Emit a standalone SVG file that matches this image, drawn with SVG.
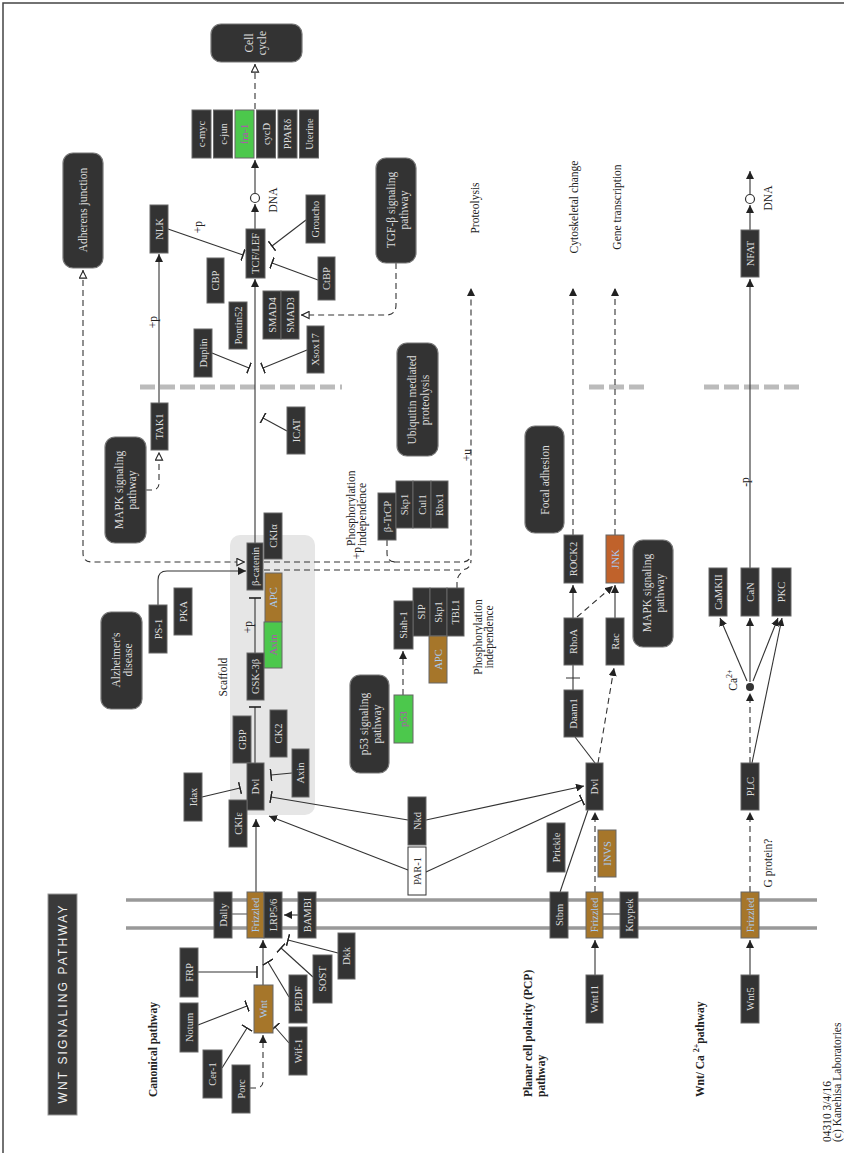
<svg xmlns="http://www.w3.org/2000/svg" width="844" height="1153" viewBox="0 0 844 1153">
<style>
.n rect{fill:#333;stroke:#666;stroke-width:1}
.n text,.m text{font-family:"Liberation Serif","DejaVu Serif",serif;font-size:10.5px;fill:#ddd;text-anchor:middle;dominant-baseline:central}
.m rect{fill:#333;stroke:#777;stroke-width:1.2}
.m text{font-size:11.5px}
.b rect{fill:#a6762a}
.b text{fill:#a8cbf5}
.g rect{fill:#4cc84c}
.g text{fill:#b44fb4}
.o rect{fill:#c0622b}
.o text{fill:#a8cbf5}
.w rect{fill:#fff;stroke:#333}
.w text{fill:#333}
.c path{fill:none;stroke:#333;stroke-width:1.1}
.c .d{stroke-dasharray:6 4}
.lbl{font-family:"Liberation Serif","DejaVu Serif",serif;font-size:11.5px;fill:#222;text-anchor:middle;dominant-baseline:central}
.st{text-anchor:start}
.bold{font-weight:bold}
.sep{stroke:#bbb;stroke-width:5;stroke-dasharray:15 5;fill:none}
.mem{stroke:#999;stroke-width:3.5}
</style>
<defs>
<marker id="a" viewBox="0 0 10 10" refX="10" refY="5" markerWidth="8" markerHeight="8" markerUnits="userSpaceOnUse" orient="auto"><path d="M0,0L10,5L0,10z" fill="#222"/></marker>
<marker id="oa" viewBox="0 0 10 10" refX="10" refY="5" markerWidth="9" markerHeight="9" markerUnits="userSpaceOnUse" orient="auto-start-reverse"><path d="M1,1L9,5L1,9z" fill="#fff" stroke="#222" stroke-width="1.2"/></marker>
<marker id="t" viewBox="0 0 2 12" refX="1" refY="6" markerWidth="2" markerHeight="12" markerUnits="userSpaceOnUse" orient="auto"><path d="M1,0V12" stroke="#222" stroke-width="1.6"/></marker>
</defs>
<rect width="844" height="1153" fill="#fff"/>
<path d="M3,1153V3H844" fill="none" stroke="#444" stroke-width="1.5"/>

<!-- scaffold -->
<rect id="scaffold" x="230" y="535" width="85" height="280" rx="10" fill="#e6e6e6"/>
<text class="lbl" x="223" y="677" transform="rotate(-90 223 677)">Scaffold</text>

<!-- membrane -->
<g id="membrane">
<line class="mem" x1="126" y1="900" x2="817" y2="900"/>
<line class="mem" x1="126" y1="928" x2="817" y2="928"/>
<path d="M232,914H247M603,914H620" stroke="#888" stroke-width="1.5"/>
</g>

<!-- nucleus boundary -->
<path class="sep" d="M140,387H342M589,387H645M704,387H800"/>

<g id="connectors" class="c">
<path class="d" d="M255,109V64" marker-end="url(#oa)"/>
<path d="M255,229V204" marker-end="url(#a)"/>
<path d="M255,193V160" marker-end="url(#a)"/>
<path d="M168,229L243,255" marker-end="url(#t)"/>
<path d="M159,403V254" marker-end="url(#a)"/>
<path class="d" d="M146,490H152Q159,490 159,483V452" marker-end="url(#oa)"/>
<path class="d" d="M83,270V553Q83,562 92,562H245" marker-start="url(#oa)" marker-end="url(#oa)"/>
<path d="M158,605V580Q158,571 167,571H246" marker-end="url(#a)"/>
<path d="M255,543V279" marker-end="url(#a)"/>
<path d="M212,353L249,368" marker-end="url(#t)"/>
<path d="M307,350L263,368" marker-end="url(#t)"/>
<path d="M287,431L263,418" marker-end="url(#t)"/>
<path d="M306,220L272,246" marker-end="url(#t)"/>
<path d="M318,280L272,263" marker-end="url(#t)"/>
<path class="d" d="M396,263V305Q396,315 386,315H301" marker-end="url(#oa)"/>
<path class="d" d="M264,562H462Q471,562 471,553V288" marker-end="url(#a)"/>
<path class="d" d="M264,570H460Q471,570 471,560"/>
<path class="d" d="M387,540V553Q387,562 396,562"/>
<path class="d" d="M457,588V582Q457,575 464,571"/>
<path d="M255,653V598" marker-end="url(#t)"/>
<path d="M255,763V707" marker-end="url(#t)"/>
<path d="M202,797L240,788" marker-end="url(#t)"/>
<path d="M256,892V819" marker-end="url(#a)"/>
<path d="M292,773L271,775" marker-end="url(#t)"/>
<path d="M408,820L271,797" marker-end="url(#t)"/>
<path d="M408,870L269,816" marker-end="url(#a)"/>
<path d="M426,820L584,786" marker-end="url(#a)"/>
<path d="M426,872L582,800" marker-end="url(#t)"/>
<path d="M263,985V940" marker-end="url(#a)"/>
<path d="M198,972H257" marker-end="url(#t)"/>
<path d="M198,1025L247,1006" marker-end="url(#t)"/>
<path d="M222,1068L247,1028" marker-end="url(#t)"/>
<path class="d" d="M250,1088H256Q263,1088 263,1081V1035" marker-end="url(#a)"/>
<path d="M289,997L268,962" marker-end="url(#t)"/>
<path d="M289,1043L275,1027" marker-end="url(#t)"/>
<path d="M313,977L281,948" marker-end="url(#t)"/>
<path d="M338,953L288,940" marker-end="url(#t)"/>
<path d="M298,915H284" marker-end="url(#a)"/>
<path class="d" d="M403,695V651" marker-end="url(#a)"/>
<path d="M595,975V940" marker-end="url(#a)"/>
<path class="d" d="M595,892V812" marker-end="url(#a)"/>
<path d="M560,892L588,810"/>
<path d="M595,763L575,737"/>
<path d="M573,690V665M566,678H580"/>
<path class="d" d="M598,763L614,668" marker-end="url(#a)"/>
<path d="M573,618V585" marker-end="url(#a)"/>
<path d="M615,618V585" marker-end="url(#a)"/>
<path class="d" d="M577,617L613,586" marker-end="url(#a)"/>
<path class="d" d="M573,535V288" marker-end="url(#a)"/>
<path class="d" d="M615,535V288" marker-end="url(#a)"/>
<path d="M750,975V940" marker-end="url(#a)"/>
<path class="d" d="M750,892V812" marker-end="url(#a)"/>
<path class="d" d="M750,763V693" marker-end="url(#a)"/>
<path d="M747,681L720,618" marker-end="url(#a)"/>
<path d="M750,682V618" marker-end="url(#a)"/>
<path d="M753,681L778,618" marker-end="url(#a)"/>
<path d="M752,763L782,618" marker-end="url(#a)"/>
<path d="M750,568V279" marker-end="url(#a)"/>
<path d="M750,230V205" marker-end="url(#a)"/>
<path d="M750,194V171" marker-end="url(#a)"/>
<circle cx="255" cy="198" r="4.5" fill="#fff" stroke="#333" stroke-width="1.2"/>
<circle cx="750" cy="199" r="4.5" fill="#fff" stroke="#333" stroke-width="1.2"/>
<circle cx="750" cy="687" r="4" fill="#333"/>
</g>

<!-- connector labels -->
<g id="labels">
<text class="lbl" x="198" y="227" transform="rotate(-90 198 227)">+p</text>
<text class="lbl" x="153" y="322" transform="rotate(-90 153 322)">+p</text>
<text class="lbl" x="248" y="627" transform="rotate(-90 248 627)">+p</text>
<text class="lbl" x="357" y="553" transform="rotate(-90 357 553)">+p</text>
<text class="lbl" x="467" y="455" transform="rotate(-90 467 455)">+u</text>
<text class="lbl" x="745" y="482" transform="rotate(-90 745 482)">-p</text>
<text class="lbl" x="273" y="200" transform="rotate(-90 273 200)">DNA</text>
<text class="lbl" x="768" y="198" transform="rotate(-90 768 198)">DNA</text>
<text class="lbl" x="475" y="208" transform="rotate(-90 475 208)">Proteolysis</text>
<text class="lbl" x="574" y="207" transform="rotate(-90 574 207)">Cytoskeletal change</text>
<text class="lbl" x="617" y="207" transform="rotate(-90 617 207)">Gene transcription</text>
<text class="lbl st" x="351" y="546" transform="rotate(-90 351 546)">Phosphorylation</text>
<text class="lbl st" x="362" y="546" transform="rotate(-90 362 546)">independence</text>
<text class="lbl" x="478" y="637" transform="rotate(-90 478 637)">Phosphorylation</text>
<text class="lbl" x="489" y="637" transform="rotate(-90 489 637)">independence</text>
<text class="lbl" x="768" y="863" transform="rotate(-90 768 863)">G protein?</text>
<text class="lbl" x="733" y="680" transform="rotate(-90 733 680)">Ca<tspan font-size="8" dy="-4">2+</tspan></text>
<text class="lbl st bold" x="153" y="1097" transform="rotate(-90 153 1097)">Canonical pathway</text>
<text class="lbl st bold" x="528" y="1097" transform="rotate(-90 528 1097)">Planar cell polarity (PCP)</text>
<text class="lbl st bold" x="541" y="1097" transform="rotate(-90 541 1097)">pathway</text>
<text class="lbl st bold" x="700" y="1097" transform="rotate(-90 700 1097)">Wnt/ Ca <tspan font-size="8" dy="-4">2+</tspan><tspan dy="4">pathway</tspan></text>
<text class="lbl st" x="827" y="1142" font-family="Liberation Sans" font-size="9.5" transform="rotate(-90 827 1142)">04310 3/4/16</text>
<text class="lbl st" x="837" y="1142" font-family="Liberation Sans" font-size="9.5" transform="rotate(-90 837 1142)">(c) Kanehisa Laboratories</text>
</g>

<!-- title -->
<g id="title">
<rect x="48" y="894" width="29" height="221" fill="#3a3a3a" stroke="#999"/>
<text x="62.5" y="1004.5" font-family="Liberation Sans" font-size="12" fill="#eee" text-anchor="middle" dominant-baseline="central" textLength="198" lengthAdjust="spacing" transform="rotate(-90 62.5 1004.5)">WNT  SIGNALING  PATHWAY</text>
</g>

<!-- map nodes -->
<g id="m-cellcycle" class="m"><rect x="211" y="24" width="91" height="38" rx="10"/><text x="249" y="43" transform="rotate(-90 249 43)">Cell</text><text x="262" y="43" transform="rotate(-90 262 43)">cycle</text></g>
<g id="m-adherens" class="m"><rect x="63" y="153" width="40" height="115" rx="10"/><text x="83" y="210" transform="rotate(-90 83 210)">Adherens junction</text></g>
<g id="m-tgfb" class="m"><rect x="376" y="158" width="40" height="105" rx="10"/><text x="391" y="210" transform="rotate(-90 391 210)">TGF-β signaling</text><text x="404" y="210" transform="rotate(-90 404 210)">pathway</text></g>
<g id="m-ubiq" class="m"><rect x="397" y="343" width="41" height="113" rx="10"/><text x="412" y="400" transform="rotate(-90 412 400)">Ubiquitin mediated</text><text x="425" y="400" transform="rotate(-90 425 400)">proteolysis</text></g>
<g id="m-focal" class="m"><rect x="525" y="426" width="39" height="107" rx="10"/><text x="545" y="480" transform="rotate(-90 545 480)">Focal adhesion</text></g>
<g id="m-mapk2" class="m"><rect x="633" y="540" width="40" height="107" rx="10"/><text x="647" y="593" transform="rotate(-90 647 593)">MAPK signaling</text><text x="660" y="593" transform="rotate(-90 660 593)">pathway</text></g>
<g id="m-mapk1" class="m"><rect x="105" y="437" width="41" height="106" rx="10"/><text x="119" y="490" transform="rotate(-90 119 490)">MAPK signaling</text><text x="132" y="490" transform="rotate(-90 132 490)">pathway</text></g>
<g id="m-alz" class="m"><rect x="101" y="612" width="41" height="97" rx="10"/><text x="116" y="660" transform="rotate(-90 116 660)">Alzheimer's</text><text x="128" y="660" transform="rotate(-90 128 660)">disease</text></g>
<g id="m-p53" class="m"><rect x="350" y="675" width="39" height="98" rx="10"/><text x="364" y="724" transform="rotate(-90 364 724)">p53 signaling</text><text x="377" y="724" transform="rotate(-90 377 724)">pathway</text></g>

<!-- gene nodes -->
<g id="g-cmyc" class="n"><rect x="192" y="110" width="19" height="48"/><text x="201.5" y="134" transform="rotate(-90 201.5 134)">c-myc</text></g>
<g id="g-cjun" class="n"><rect x="213.5" y="110" width="19" height="48"/><text x="223" y="134" transform="rotate(-90 223 134)">c-jun</text></g>
<g id="g-fra1" class="n g"><rect x="235" y="110" width="19" height="48"/><text x="244.5" y="134" transform="rotate(-90 244.5 134)">fra-1</text></g>
<g id="g-cycd" class="n"><rect x="256.5" y="110" width="19" height="48"/><text x="266" y="134" transform="rotate(-90 266 134)">cycD</text></g>
<g id="g-ppard" class="n"><rect x="278" y="110" width="19" height="48"/><text x="287.5" y="134" transform="rotate(-90 287.5 134)">PPARδ</text></g>
<g id="g-uterine" class="n"><rect x="299.5" y="110" width="19" height="48"/><text x="309" y="134" transform="rotate(-90 309 134)">Uterine</text></g>
<g id="g-nlk" class="n"><rect x="150" y="205" width="18" height="48"/><text x="159" y="229" transform="rotate(-90 159 229)">NLK</text></g>
<g id="g-tcflef" class="n"><rect x="246" y="229" width="19" height="49"/><text x="255.5" y="253.5" transform="rotate(-90 255.5 253.5)">TCF/LEF</text></g>
<g id="g-cbp" class="n"><rect x="207" y="258" width="17" height="45"/><text x="215.5" y="280.5" transform="rotate(-90 215.5 280.5)">CBP</text></g>
<g id="g-groucho" class="n"><rect x="306" y="195" width="19" height="48"/><text x="315.5" y="219" transform="rotate(-90 315.5 219)">Groucho</text></g>
<g id="g-ctbp" class="n"><rect x="318" y="257" width="17" height="43"/><text x="326.5" y="278.5" transform="rotate(-90 326.5 278.5)">CtBP</text></g>
<g id="g-pontin" class="n"><rect x="229" y="302" width="18" height="47"/><text x="238" y="325.5" transform="rotate(-90 238 325.5)">Pontin52</text></g>
<g id="g-duplin" class="n"><rect x="194" y="329" width="18" height="48"/><text x="203" y="353" transform="rotate(-90 203 353)">Duplin</text></g>
<g id="g-smad4" class="n"><rect x="263" y="291" width="18" height="48"/><text x="272" y="315" transform="rotate(-90 272 315)">SMAD4</text></g>
<g id="g-smad3" class="n"><rect x="281" y="291" width="18" height="48"/><text x="290" y="315" transform="rotate(-90 290 315)">SMAD3</text></g>
<g id="g-xsox17" class="n"><rect x="307" y="326" width="17" height="47"/><text x="315.5" y="349.5" transform="rotate(-90 315.5 349.5)">Xsox17</text></g>
<g id="g-icat" class="n"><rect x="287" y="407" width="18" height="47"/><text x="296" y="430.5" transform="rotate(-90 296 430.5)">ICAT</text></g>
<g id="g-tak1" class="n"><rect x="151" y="403" width="17" height="47"/><text x="159.5" y="426.5" transform="rotate(-90 159.5 426.5)">TAK1</text></g>
<g id="g-ckia" class="n"><rect x="264" y="513" width="18" height="46"/><text x="273" y="536" transform="rotate(-90 273 536)">CKIα</text></g>
<g id="g-bcat" class="n"><rect x="247" y="543" width="16" height="47"/><text x="255" y="566.5" transform="rotate(-90 255 566.5)">β-catenin</text></g>
<g id="g-apc1" class="n b"><rect x="265" y="573" width="17" height="49"/><text x="273.5" y="597.5" transform="rotate(-90 273.5 597.5)">APC</text></g>
<g id="g-axin1" class="n g"><rect x="264" y="622" width="18" height="46"/><text x="273" y="645" transform="rotate(-90 273 645)">Axin</text></g>
<g id="g-gsk3b" class="n"><rect x="247" y="653" width="17" height="47"/><text x="255.5" y="676.5" transform="rotate(-90 255.5 676.5)">GSK-3β</text></g>
<g id="g-ps1" class="n"><rect x="149" y="605" width="18" height="48"/><text x="158" y="629" transform="rotate(-90 158 629)">PS-1</text></g>
<g id="g-pka" class="n"><rect x="174" y="588" width="18" height="47"/><text x="183" y="611.5" transform="rotate(-90 183 611.5)">PKA</text></g>
<g id="g-gbp" class="n"><rect x="233" y="716" width="18" height="47"/><text x="242" y="739.5" transform="rotate(-90 242 739.5)">GBP</text></g>
<g id="g-ck2" class="n"><rect x="270" y="710" width="17" height="47"/><text x="278.5" y="733.5" transform="rotate(-90 278.5 733.5)">CK2</text></g>
<g id="g-dvl1" class="n"><rect x="247" y="763" width="17" height="47"/><text x="255.5" y="786.5" transform="rotate(-90 255.5 786.5)">Dvl</text></g>
<g id="g-axin2" class="n"><rect x="292" y="749" width="17" height="48"/><text x="300.5" y="773" transform="rotate(-90 300.5 773)">Axin</text></g>
<g id="g-idax" class="n"><rect x="184" y="773" width="18" height="48"/><text x="193" y="797" transform="rotate(-90 193 797)">Idax</text></g>
<g id="g-ckie" class="n"><rect x="229" y="800" width="18" height="47"/><text x="238" y="823.5" transform="rotate(-90 238 823.5)">CKIε</text></g>
<g id="g-btrcp" class="n"><rect x="378" y="493" width="18" height="47"/><text x="387" y="516.5" transform="rotate(-90 387 516.5)">β-TrCP</text></g>
<g id="g-skp1a" class="n"><rect x="396" y="481" width="17" height="47"/><text x="404.5" y="504.5" transform="rotate(-90 404.5 504.5)">Skp1</text></g>
<g id="g-cul1" class="n"><rect x="413" y="481" width="18" height="47"/><text x="422" y="504.5" transform="rotate(-90 422 504.5)">Cul1</text></g>
<g id="g-rbx1" class="n"><rect x="431" y="481" width="17" height="47"/><text x="439.5" y="504.5" transform="rotate(-90 439.5 504.5)">Rbx1</text></g>
<g id="g-sip" class="n"><rect x="413" y="588" width="17" height="48"/><text x="421.5" y="612" transform="rotate(-90 421.5 612)">SIP</text></g>
<g id="g-skp1b" class="n"><rect x="430" y="588" width="17" height="48"/><text x="438.5" y="612" transform="rotate(-90 438.5 612)">Skp1</text></g>
<g id="g-tbl1" class="n"><rect x="447" y="588" width="17" height="48"/><text x="455.5" y="612" transform="rotate(-90 455.5 612)">TBL1</text></g>
<g id="g-siah1" class="n"><rect x="394" y="601" width="19" height="48"/><text x="403.5" y="625" transform="rotate(-90 403.5 625)">Siah-1</text></g>
<g id="g-apc2" class="n b"><rect x="429" y="636" width="18" height="47"/><text x="438" y="659.5" transform="rotate(-90 438 659.5)">APC</text></g>
<g id="g-p53" class="n g"><rect x="394" y="695" width="19" height="48"/><text x="403.5" y="719" transform="rotate(-90 403.5 719)">p53</text></g>
<g id="g-nkd" class="n"><rect x="408" y="797" width="18" height="48"/><text x="417" y="821" transform="rotate(-90 417 821)">Nkd</text></g>
<g id="g-par1" class="n w"><rect x="408" y="847" width="18" height="48"/><text x="417" y="871" transform="rotate(-90 417 871)">PAR-1</text></g>
<g id="g-dally" class="n"><rect x="214" y="892" width="18" height="46"/><text x="223" y="915" transform="rotate(-90 223 915)">Dally</text></g>
<g id="g-fz1" class="n b"><rect x="247" y="892" width="17" height="46"/><text x="255.5" y="915" transform="rotate(-90 255.5 915)">Frizzled</text></g>
<g id="g-lrp" class="n"><rect x="264" y="892" width="18" height="46"/><text x="273" y="915" transform="rotate(-90 273 915)">LRP5/6</text></g>
<g id="g-bambi" class="n"><rect x="298" y="892" width="18" height="46"/><text x="307" y="915" transform="rotate(-90 307 915)">BAMBI</text></g>
<g id="g-wnt" class="n b"><rect x="254" y="985" width="19" height="48"/><text x="263.5" y="1009" transform="rotate(-90 263.5 1009)">Wnt</text></g>
<g id="g-frp" class="n"><rect x="180" y="948" width="18" height="49"/><text x="189" y="972.5" transform="rotate(-90 189 972.5)">FRP</text></g>
<g id="g-notum" class="n"><rect x="180" y="1003" width="18" height="49"/><text x="189" y="1027.5" transform="rotate(-90 189 1027.5)">Notum</text></g>
<g id="g-cer1" class="n"><rect x="203" y="1050" width="19" height="48"/><text x="212.5" y="1074" transform="rotate(-90 212.5 1074)">Cer-1</text></g>
<g id="g-porc" class="n"><rect x="232" y="1065" width="18" height="48"/><text x="241" y="1089" transform="rotate(-90 241 1089)">Porc</text></g>
<g id="g-pedf" class="n"><rect x="289" y="975" width="18" height="48"/><text x="298" y="999" transform="rotate(-90 298 999)">PEDF</text></g>
<g id="g-wif1" class="n"><rect x="289" y="1027" width="18" height="48"/><text x="298" y="1051" transform="rotate(-90 298 1051)">Wif-1</text></g>
<g id="g-sost" class="n"><rect x="313" y="955" width="19" height="48"/><text x="322.5" y="979" transform="rotate(-90 322.5 979)">SOST</text></g>
<g id="g-dkk" class="n"><rect x="338" y="933" width="17" height="46"/><text x="346.5" y="956" transform="rotate(-90 346.5 956)">Dkk</text></g>
<g id="g-rock2" class="n"><rect x="564" y="535" width="19" height="48"/><text x="573.5" y="559" transform="rotate(-90 573.5 559)">ROCK2</text></g>
<g id="g-jnk" class="n o"><rect x="606" y="535" width="18" height="48"/><text x="615" y="559" transform="rotate(-90 615 559)">JNK</text></g>
<g id="g-rhoa" class="n"><rect x="564" y="618" width="19" height="47"/><text x="573.5" y="641.5" transform="rotate(-90 573.5 641.5)">RhoA</text></g>
<g id="g-rac" class="n"><rect x="606" y="618" width="18" height="47"/><text x="615" y="641.5" transform="rotate(-90 615 641.5)">Rac</text></g>
<g id="g-daam1" class="n"><rect x="564" y="690" width="19" height="47"/><text x="573.5" y="713.5" transform="rotate(-90 573.5 713.5)">Daam1</text></g>
<g id="g-dvl2" class="n"><rect x="586" y="763" width="17" height="47"/><text x="594.5" y="786.5" transform="rotate(-90 594.5 786.5)">Dvl</text></g>
<g id="g-prickle" class="n"><rect x="547" y="823" width="18" height="49"/><text x="556" y="847.5" transform="rotate(-90 556 847.5)">Prickle</text></g>
<g id="g-invs" class="n b"><rect x="598" y="830" width="18" height="47"/><text x="607" y="853.5" transform="rotate(-90 607 853.5)">INVS</text></g>
<g id="g-stbm" class="n"><rect x="550" y="892" width="18" height="46"/><text x="559" y="915" transform="rotate(-90 559 915)">Stbm</text></g>
<g id="g-fz2" class="n b"><rect x="586" y="892" width="17" height="46"/><text x="594.5" y="915" transform="rotate(-90 594.5 915)">Frizzled</text></g>
<g id="g-knypek" class="n"><rect x="620" y="892" width="18" height="46"/><text x="629" y="915" transform="rotate(-90 629 915)">Knypek</text></g>
<g id="g-wnt11" class="n"><rect x="586" y="975" width="17" height="48"/><text x="594.5" y="999" transform="rotate(-90 594.5 999)">Wnt11</text></g>
<g id="g-nfat" class="n"><rect x="741" y="230" width="18" height="47"/><text x="750" y="253.5" transform="rotate(-90 750 253.5)">NFAT</text></g>
<g id="g-camkii" class="n"><rect x="709" y="568" width="18" height="48"/><text x="718" y="592" transform="rotate(-90 718 592)">CaMKII</text></g>
<g id="g-can" class="n"><rect x="741" y="568" width="18" height="48"/><text x="750" y="592" transform="rotate(-90 750 592)">CaN</text></g>
<g id="g-pkc" class="n"><rect x="772" y="568" width="19" height="48"/><text x="781.5" y="592" transform="rotate(-90 781.5 592)">PKC</text></g>
<g id="g-plc" class="n"><rect x="741" y="763" width="18" height="47"/><text x="750" y="786.5" transform="rotate(-90 750 786.5)">PLC</text></g>
<g id="g-fz3" class="n b"><rect x="741" y="892" width="18" height="46"/><text x="750" y="915" transform="rotate(-90 750 915)">Frizzled</text></g>
<g id="g-wnt5" class="n"><rect x="741" y="975" width="18" height="48"/><text x="750" y="999" transform="rotate(-90 750 999)">Wnt5</text></g>
</svg>
